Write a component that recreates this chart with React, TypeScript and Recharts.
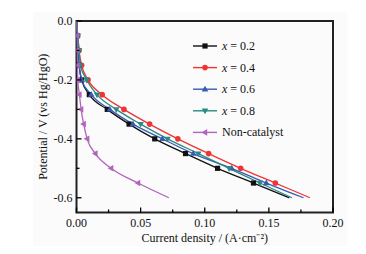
import React from "react";
import { LineChart, Line, XAxis, YAxis, ReferenceArea, Label } from "recharts";

// potential steps (V vs Hg/HgO)
const potentials = [0, -0.05, -0.1, -0.15, -0.2, -0.25, -0.3, -0.35, -0.4, -0.45, -0.5, -0.55, -0.6];

// current density (A/cm2) at each potential step
const currentX02 = [0, 0.0005, 0.001, 0.002, 0.004, 0.01, 0.024, 0.041, 0.061, 0.085, 0.11, 0.138, 0.166];
const currentX04 = [0, 0.001, 0.002, 0.004, 0.009, 0.02, 0.037, 0.057, 0.079, 0.103, 0.128, 0.155, 0.182];
const currentX06 = [0, 0.0005, 0.001, 0.002, 0.004, 0.0115, 0.026, 0.044, 0.067, 0.091, 0.121, 0.148, 0.177];
const currentX08 = [0, 0.001, 0.002, 0.003, 0.008, 0.016, 0.031, 0.05, 0.071, 0.095, 0.119, 0.143, 0.168];
const currentNone = [0, 0.0003, 0.0005, 0.0007, 0.001, 0.0023, 0.0036, 0.0056, 0.0083, 0.0147, 0.027, 0.048, 0.072];

const xTicks = [0, 0.025, 0.05, 0.075, 0.1, 0.125, 0.15, 0.175, 0.2];
const yTicks = [0, -0.1, -0.2, -0.3, -0.4, -0.5, -0.6];

const FONT = "'Liberation Serif', 'Times New Roman', serif";

type Marker = "square" | "circle" | "up" | "down" | "left";

const series: { key: string; name: string; italic: boolean; color: string; marker: Marker; values: number[] }[] = [
  { key: "x02", name: "0.2", italic: true, color: "#111111", marker: "square", values: currentX02 },
  { key: "x04", name: "0.4", italic: true, color: "#f03434", marker: "circle", values: currentX04 },
  { key: "x06", name: "0.6", italic: true, color: "#3a5bb2", marker: "up", values: currentX06 },
  { key: "x08", name: "0.8", italic: true, color: "#2a8a84", marker: "down", values: currentX08 },
  { key: "none", name: "Non-catalyst", italic: false, color: "#b064bc", marker: "left", values: currentNone },
];

function toPoints(values: number[]) {
  return values.map((x, i) => ({ x, y: potentials[i] }));
}

function drawMarker(kind: Marker, cx: number, cy: number, color: string) {
  const s = 3;
  switch (kind) {
    case "square":
      return <rect x={cx - 2.6} y={cy - 2.6} width={5.2} height={5.2} fill={color} />;
    case "circle":
      return <circle cx={cx} cy={cy} r={2.8} fill={color} />;
    case "up":
      return <polygon points={`${cx},${cy - s - 0.5} ${cx - s - 0.3},${cy + s - 0.8} ${cx + s + 0.3},${cy + s - 0.8}`} fill={color} />;
    case "down":
      return <polygon points={`${cx},${cy + s + 0.5} ${cx - s - 0.3},${cy - s + 0.8} ${cx + s + 0.3},${cy - s + 0.8}`} fill={color} />;
    case "left":
      return <polygon points={`${cx - s - 0.5},${cy} ${cx + s - 0.8},${cy - s - 0.3} ${cx + s - 0.8},${cy + s + 0.3}`} fill={color} />;
  }
}

const XTick = (props: any) => {
  const { x, y, payload } = props;
  const v = payload.value;
  const major = Math.round(v * 1000) % 50 === 0;
  return (
    <g>
      <line x1={x} x2={x} y1={y} y2={y - (major ? 5 : 3)} stroke="#000" strokeWidth={1.3} />
      {major && (
        <text x={x} y={y + 14} textAnchor="middle" fontSize={12} fontFamily={FONT} fill="#111">
          {v.toFixed(2)}
        </text>
      )}
    </g>
  );
};

const YTick = (props: any) => {
  const { x, y, payload } = props;
  const v = payload.value;
  const major = Math.round(Math.abs(v) * 10) % 2 === 0;
  return (
    <g>
      <line x1={x} x2={x + (major ? 5 : 3)} y1={y} y2={y} stroke="#000" strokeWidth={1.3} />
      {major && (
        <text x={x - 4} y={y + 4} textAnchor="end" fontSize={12} fontFamily={FONT} fill="#111">
          {v.toFixed(1)}
        </text>
      )}
    </g>
  );
};

function ChartLegend() {
  return (
    <svg width={140} height={110} style={{ position: "absolute", left: 188, top: 36 }}>
      {series.map((s, i) => {
        const cy = 10 + i * 21.6;
        return (
          <g key={s.key}>
            <line x1={5} x2={29} y1={cy} y2={cy} stroke={s.color} strokeWidth={1.4} />
            {drawMarker(s.marker, 17, cy, s.color)}
            <text x={34} y={cy + 4} fontSize={12} fontFamily={FONT} fill="#111">
              {s.italic ? (
                <>
                  <tspan fontStyle="italic">x</tspan>
                  {" = " + s.name}
                </>
              ) : (
                s.name
              )}
            </text>
          </g>
        );
      })}
    </svg>
  );
}

export default function App() {
  return (
    <div style={{ position: "relative", width: 366, height: 254, margin: -8, background: "#fff" }}>
      <div style={{ position: "absolute", left: 33, top: 12, width: 314, height: 236, background: "#fbfbfb" }} />
      <div style={{ position: "absolute", left: 0, top: 0 }}>
        <LineChart width={366} height={254} margin={{ top: 21, right: 33, left: 0, bottom: 0 }}>
          <XAxis
            type="number"
            dataKey="x"
            domain={[0, 0.2]}
            ticks={xTicks}
            interval={0}
            height={41.5}
            axisLine={false}
            tickLine={false}
            tickSize={0}
            tickMargin={0}
            tick={<XTick />}
            allowDataOverflow
          >
            <Label
              value="Current density / (A·cm⁻²)"
              position="insideBottom"
              offset={12}
              style={{ fontSize: 12, fontFamily: FONT, fill: "#111" }}
            />
          </XAxis>
          <YAxis
            type="number"
            dataKey="y"
            domain={[-0.65, 0]}
            ticks={yTicks}
            interval={0}
            width={76.5}
            axisLine={false}
            tickLine={false}
            tickSize={0}
            tickMargin={0}
            tick={<YTick />}
            allowDataOverflow
          >
            <Label
              value="Potential / V (vs Hg/HgO)"
              angle={-90}
              position="insideLeft"
              offset={43}
              style={{ fontSize: 12, fontFamily: FONT, fill: "#111", textAnchor: "middle" }}
            />
          </YAxis>
          {series.map((s) => {
            const pts = toPoints(s.values);
            return (
              <Line
                key={s.key}
                data={pts}
                dataKey="y"
                name={s.name}
                type="monotone"
                stroke={s.color}
                strokeWidth={1.3}
                isAnimationActive={false}
                activeDot={false}
                dot={(p: any) => (
                  <g key={`${s.key}-${p.index}`}>
                    {p.index === 0 || p.index === pts.length - 1 ? null : drawMarker(s.marker, p.cx, p.cy, s.color)}
                  </g>
                )}
              />
            );
          })}
          <ReferenceArea
            x1={0}
            x2={0.2}
            y1={-0.65}
            y2={0}
            fill="none"
            fillOpacity={0}
            stroke="#222"
            strokeWidth={2}
            ifOverflow="visible"
          />
        </LineChart>
      </div>
      <ChartLegend />
    </div>
  );
}
